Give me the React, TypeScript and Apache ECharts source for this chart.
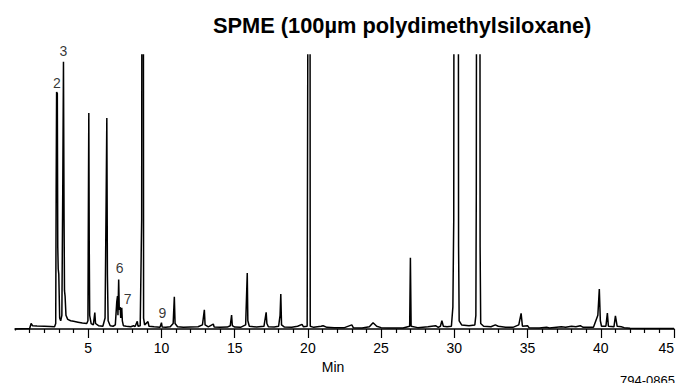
import React, { useEffect, useRef } from "react";
import * as echarts from "echarts";

// Chromatogram trace: [retention time (min), response (fraction of full scale; >1 is off-scale)]
const trace0to11: [number, number][] = [
  [0, 0], [1.0, 0.002], [1.1, 0.02], [1.2, 0.012], [1.5, 0.011], [2.0, 0.01], [2.4, 0.009], [2.7, 0.008],
  [2.78, 0.02], [2.81, 0.5], [2.84, 0.865], [2.89, 0.86], [2.92, 0.3], [2.95, 0.22], [2.99, 0.2], [3.05, 0.04],
  [3.12, 0.03], [3.2, 0.05], [3.26, 0.5], [3.31, 0.975], [3.35, 0.4], [3.38, 0.14], [3.42, 0.12], [3.48, 0.05],
  [3.6, 0.035], [3.8, 0.03], [4.0, 0.028], [4.3, 0.025], [4.6, 0.022], [4.9, 0.02], [4.98, 0.03], [5.02, 0.55],
  [5.04, 0.788], [5.07, 0.3], [5.1, 0.05], [5.2, 0.02], [5.35, 0.015], [5.45, 0.06], [5.5, 0.02], [5.7, 0.012],
  [6.0, 0.01], [6.15, 0.04], [6.22, 0.45], [6.27, 0.77], [6.31, 0.2], [6.36, 0.03], [6.5, 0.012], [6.7, 0.01],
  [6.85, 0.015], [6.95, 0.1], [7.0, 0.12], [7.03, 0.05], [7.08, 0.181], [7.12, 0.07], [7.18, 0.08], [7.22, 0.04],
  [7.29, 0.077], [7.33, 0.03], [7.4, 0.012], [7.6, 0.01], [7.9, 0.008], [8.1, 0.012], [8.2, 0.009], [8.35, 0.028],
  [8.4, 0.01], [8.55, 0.012], [8.65, 0.4], [8.69, 3], [8.75, 3], [8.78, 0.04], [8.85, 0.015], [9.08, 0.027],
  [9.15, 0.01], [9.5, 0.008], [9.9, 0.006], [10.0, 0.023], [10.05, 0.007], [10.3, 0.006], [10.6, 0.008],
  [10.8, 0.02], [10.88, 0.118], [10.93, 0.02], [11.1, 0.008],
];

const trace11to25: [number, number][] = [
  [11.5, 0.006], [12.0, 0.007], [12.5, 0.008], [12.8, 0.015], [12.93, 0.07], [12.98, 0.015], [13.2, 0.008],
  [13.54, 0.018], [13.6, 0.007], [14.0, 0.006], [14.5, 0.007], [14.7, 0.012], [14.79, 0.051], [14.84, 0.012],
  [15.0, 0.007], [15.4, 0.006], [15.75, 0.015], [15.86, 0.204], [15.9, 0.03], [16.0, 0.01], [16.5, 0.007],
  [17.0, 0.01], [17.15, 0.061], [17.2, 0.02], [17.3, 0.008], [17.7, 0.007], [18.0, 0.01], [18.1, 0.05],
  [18.15, 0.128], [18.2, 0.015], [18.4, 0.007], [18.9, 0.006], [19.3, 0.01], [19.6, 0.017], [19.7, 0.008],
  [19.95, 0.01], [20.08, 3], [20.13, 3], [20.16, 0.01], [20.4, 0.006], [20.9, 0.01], [21.04, 0.012],
  [21.3, 0.006], [21.8, 0.005], [22.5, 0.005], [23.0, 0.015], [23.1, 0.005], [23.7, 0.004], [24.2, 0.008],
  [24.45, 0.023], [24.7, 0.01], [25, 0.005],
];

const trace25to45: [number, number][] = [
  [25.5, 0.004], [26.5, 0.004], [26.95, 0.01], [27.0, 0.26], [27.05, 0.01], [27.5, 0.005], [28.2, 0.008],
  [28.72, 0.012], [28.9, 0.006], [29.05, 0.01], [29.15, 0.03], [29.25, 0.01], [29.5, 0.008], [29.8, 0.01],
  [29.9, 0.08], [29.96, 0.4], [30.0, 3], [30.25, 3], [30.29, 0.3], [30.33, 0.03], [30.5, 0.015], [31.0, 0.012],
  [31.4, 0.015], [31.47, 0.05], [31.5, 0.5], [31.55, 3], [31.73, 3], [31.76, 0.3], [31.8, 0.02], [32.0, 0.01],
  [32.5, 0.008], [32.8, 0.015], [33.0, 0.01], [33.5, 0.006], [34.0, 0.006], [34.4, 0.015], [34.56, 0.057],
  [34.65, 0.01], [35.0, 0.012], [35.1, 0.005], [35.8, 0.004], [36.3, 0.006], [36.5, 0.004], [37.3, 0.008],
  [37.6, 0.006], [38.0, 0.01], [38.3, 0.008], [38.6, 0.012], [38.8, 0.006], [39.5, 0.006], [39.8, 0.05],
  [39.9, 0.146], [39.97, 0.03], [40.05, 0.01], [40.35, 0.01], [40.45, 0.058], [40.52, 0.01], [40.9, 0.008],
  [41.0, 0.048], [41.12, 0.01], [41.4, 0.008], [41.6, 0.005], [42.0, 0.003], [43, 0.002], [45, 0.002],
];

// Peak annotations
const peakNames = ["2", "3", "6", "7", "9"];
const peakTimes = [2.86, 3.31, 7.08, 7.29, 10.0];
const peakHeights = [0.865, 0.975, 0.181, 0.077, 0.023];

const TITLE = "SPME (100µm polydimethylsiloxane)";
const X_NAME = "Min";
const CODE = "794-0865";

const FONT = "Liberation Sans, Arial, sans-serif";

export default function App() {
  const ref = useRef<HTMLDivElement>(null);
  useEffect(() => {
    document.body.style.margin = "0";
    if (!ref.current) return;
    const chart = echarts.init(ref.current, undefined, { renderer: "svg" });
    const labelOffsets: [number, number][] = [[0, 0], [0, -2], [1, -2], [6, 0], [1, -1]];
    chart.setOption({
      animation: false,
      backgroundColor: "#fff",
      title: {
        text: TITLE,
        left: 208,
        top: 9,
        textStyle: { fontFamily: FONT, fontSize: 21.8, fontWeight: "bold", color: "#000" },
      },
      grid: { left: 15, right: 4, top: 55, bottom: 54 },
      xAxis: {
        type: "value",
        min: 0,
        max: 45,
        interval: 5,
        axisLine: { show: true, onZero: false, lineStyle: { color: "#000", width: 1.5 } },
        axisTick: { show: true, length: 9, lineStyle: { color: "#000", width: 1.2 } },
        minorTick: { show: true, splitNumber: 5, length: 4, lineStyle: { color: "#000", width: 1.2 } },
        axisLabel: {
          color: "#000",
          fontFamily: FONT,
          fontSize: 14,
          margin: 12,
          alignMaxLabel: "right",
          formatter: (v: number) => (v === 0 ? "" : String(v)),
        },
        splitLine: { show: false },
        minorSplitLine: { show: false },
      },
      yAxis: { type: "value", min: 0, max: 1, show: false, splitLine: { show: false } },
      graphic: [
        {
          type: "rect",
          shape: { x: 12, y: 330.5, width: 5, height: 10 },
          style: { fill: "#fff" },
          z: 100,
        },
        {
          type: "text",
          x: 333,
          y: 367,
          style: {
            text: X_NAME,
            fontFamily: FONT,
            fontSize: 14,
            fill: "#000",
            align: "center",
            verticalAlign: "middle",
          },
        },
        {
          type: "text",
          x: 620,
          y: 374,
          style: { text: CODE, fontFamily: FONT, fontSize: 13, fill: "#000", verticalAlign: "top" },
        },
      ],
      series: [
        {
          type: "line",
          data: [...trace0to11, ...trace11to25, ...trace25to45],
          showSymbol: false,
          symbol: "none",
          clip: true,
          silent: true,
          lineStyle: { color: "#000", width: 1.5 },
        },
        {
          type: "scatter",
          symbolSize: 0,
          silent: true,
          data: peakNames.map((n, i) => ({
            value: [peakTimes[i], peakHeights[i]],
            name: n,
            label: { offset: labelOffsets[i] },
          })),
          label: {
            show: true,
            position: "top",
            distance: 2,
            formatter: (p: any) => p.name,
            fontFamily: FONT,
            fontSize: 14,
            color: "#000",
          },
        },
      ],
    });
    return () => chart.dispose();
  }, []);
  return <div ref={ref} style={{ width: 678, height: 383 }} />;
}
